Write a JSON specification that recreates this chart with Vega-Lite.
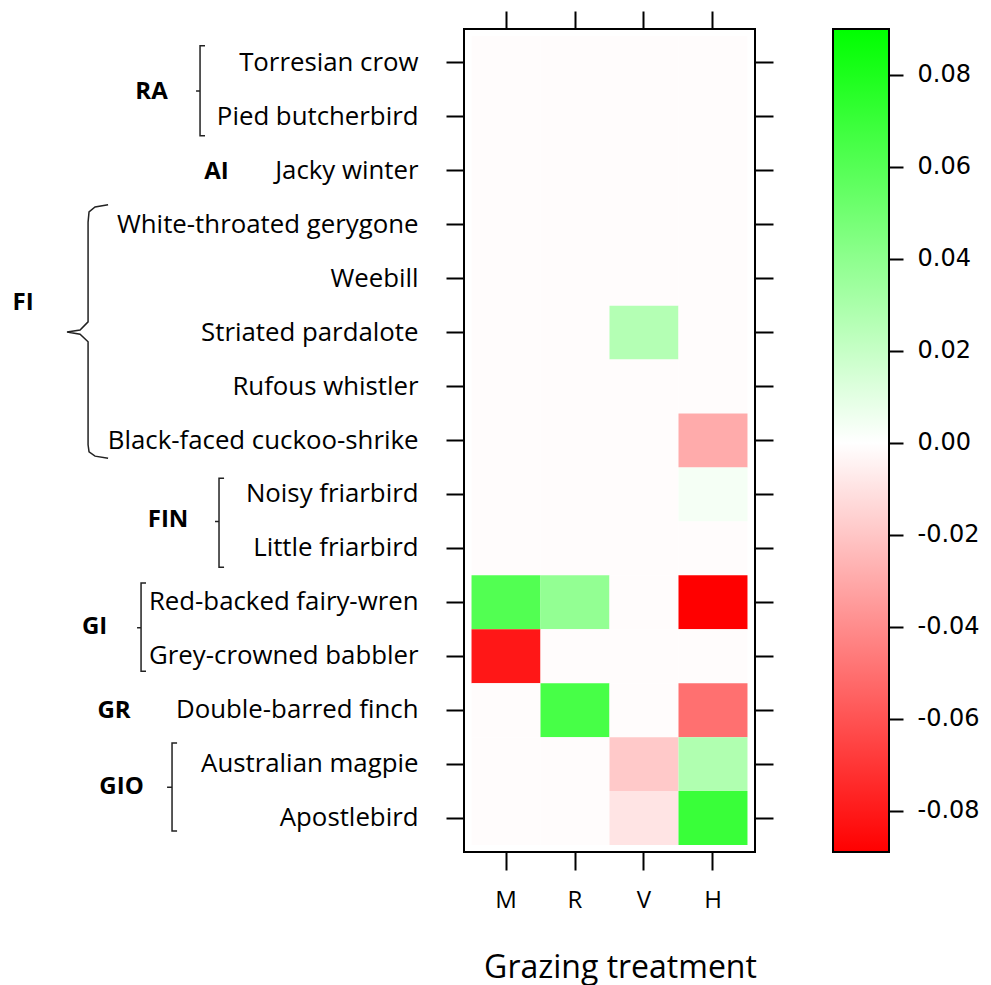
{
  "$schema": "https://vega.github.io/schema/vega-lite/v6.json",
  "width": 291,
  "height": 823,
  "autosize": {"type": "none"},
  "padding": {"left": 464, "top": 29, "right": 236, "bottom": 133},
  "background": "white",
  "config": {
    "view": {"stroke": "black", "strokeWidth": 2},
    "axis": {"tickColor": "black", "tickWidth": 2, "domain": false, "grid": false, "labelColor": "black", "titleColor": "black"}
  },
  "datasets": {
    "cells": [
      {"species": "Torresian crow", "treatment": "M", "value": -0.001},
      {"species": "Torresian crow", "treatment": "R", "value": -0.001},
      {"species": "Torresian crow", "treatment": "V", "value": -0.001},
      {"species": "Torresian crow", "treatment": "H", "value": -0.001},
      {"species": "Pied butcherbird", "treatment": "M", "value": -0.001},
      {"species": "Pied butcherbird", "treatment": "R", "value": -0.001},
      {"species": "Pied butcherbird", "treatment": "V", "value": -0.001},
      {"species": "Pied butcherbird", "treatment": "H", "value": -0.001},
      {"species": "Jacky winter", "treatment": "M", "value": -0.001},
      {"species": "Jacky winter", "treatment": "R", "value": -0.001},
      {"species": "Jacky winter", "treatment": "V", "value": -0.001},
      {"species": "Jacky winter", "treatment": "H", "value": -0.001},
      {"species": "White-throated gerygone", "treatment": "M", "value": -0.001},
      {"species": "White-throated gerygone", "treatment": "R", "value": -0.001},
      {"species": "White-throated gerygone", "treatment": "V", "value": -0.001},
      {"species": "White-throated gerygone", "treatment": "H", "value": -0.001},
      {"species": "Weebill", "treatment": "M", "value": -0.001},
      {"species": "Weebill", "treatment": "R", "value": -0.001},
      {"species": "Weebill", "treatment": "V", "value": -0.001},
      {"species": "Weebill", "treatment": "H", "value": -0.001},
      {"species": "Striated pardalote", "treatment": "M", "value": -0.001},
      {"species": "Striated pardalote", "treatment": "R", "value": -0.001},
      {"species": "Striated pardalote", "treatment": "V", "value": 0.0265},
      {"species": "Striated pardalote", "treatment": "H", "value": -0.001},
      {"species": "Rufous whistler", "treatment": "M", "value": -0.001},
      {"species": "Rufous whistler", "treatment": "R", "value": -0.001},
      {"species": "Rufous whistler", "treatment": "V", "value": -0.001},
      {"species": "Rufous whistler", "treatment": "H", "value": -0.001},
      {"species": "Black-faced cuckoo-shrike", "treatment": "M", "value": -0.001},
      {"species": "Black-faced cuckoo-shrike", "treatment": "R", "value": -0.001},
      {"species": "Black-faced cuckoo-shrike", "treatment": "V", "value": -0.001},
      {"species": "Black-faced cuckoo-shrike", "treatment": "H", "value": -0.0293},
      {"species": "Noisy friarbird", "treatment": "M", "value": -0.001},
      {"species": "Noisy friarbird", "treatment": "R", "value": -0.001},
      {"species": "Noisy friarbird", "treatment": "V", "value": -0.001},
      {"species": "Noisy friarbird", "treatment": "H", "value": 0.0035},
      {"species": "Little friarbird", "treatment": "M", "value": -0.001},
      {"species": "Little friarbird", "treatment": "R", "value": -0.001},
      {"species": "Little friarbird", "treatment": "V", "value": -0.001},
      {"species": "Little friarbird", "treatment": "H", "value": -0.001},
      {"species": "Red-backed fairy-wren", "treatment": "M", "value": 0.061},
      {"species": "Red-backed fairy-wren", "treatment": "R", "value": 0.038},
      {"species": "Red-backed fairy-wren", "treatment": "V", "value": -0.001},
      {"species": "Red-backed fairy-wren", "treatment": "H", "value": -0.089},
      {"species": "Grey-crowned babbler", "treatment": "M", "value": -0.081},
      {"species": "Grey-crowned babbler", "treatment": "R", "value": -0.001},
      {"species": "Grey-crowned babbler", "treatment": "V", "value": -0.001},
      {"species": "Grey-crowned babbler", "treatment": "H", "value": -0.001},
      {"species": "Double-barred finch", "treatment": "M", "value": -0.001},
      {"species": "Double-barred finch", "treatment": "R", "value": 0.065},
      {"species": "Double-barred finch", "treatment": "V", "value": -0.001},
      {"species": "Double-barred finch", "treatment": "H", "value": -0.050},
      {"species": "Australian magpie", "treatment": "M", "value": -0.001},
      {"species": "Australian magpie", "treatment": "R", "value": -0.001},
      {"species": "Australian magpie", "treatment": "V", "value": -0.019},
      {"species": "Australian magpie", "treatment": "H", "value": 0.028},
      {"species": "Apostlebird", "treatment": "M", "value": -0.001},
      {"species": "Apostlebird", "treatment": "R", "value": -0.001},
      {"species": "Apostlebird", "treatment": "V", "value": -0.0094},
      {"species": "Apostlebird", "treatment": "H", "value": 0.070}
    ],
    "groups": [
      {"label": "RA", "u": -4.638, "r": 1.03},
      {"label": "AI", "u": -3.696, "r": 2.52},
      {"label": "FI", "u": -6.5, "r": 4.95},
      {"label": "FIN", "u": -4.399, "r": 8.97},
      {"label": "GI", "u": -5.464, "r": 10.96},
      {"label": "GR", "u": -5.181, "r": 12.52},
      {"label": "GIO", "u": -5.073, "r": 13.93}
    ],
    "brackets": [
      {"group": "RA", "order": 1, "u": -3.863, "r": 0.18},
      {"group": "RA", "order": 2, "u": -3.935, "r": 0.18},
      {"group": "RA", "order": 3, "u": -3.935, "r": 1.02},
      {"group": "RA", "order": 4, "u": -3.993, "r": 1.02},
      {"group": "RA", "order": 5, "u": -3.935, "r": 1.02},
      {"group": "RA", "order": 6, "u": -3.935, "r": 1.85},
      {"group": "RA", "order": 7, "u": -3.863, "r": 1.85},
      {"group": "FI", "order": 1, "u": -5.268, "r": 3.13},
      {"group": "FI", "order": 2, "u": -5.457, "r": 3.17},
      {"group": "FI", "order": 3, "u": -5.544, "r": 3.26},
      {"group": "FI", "order": 4, "u": -5.558, "r": 3.45},
      {"group": "FI", "order": 5, "u": -5.558, "r": 5.3},
      {"group": "FI", "order": 6, "u": -5.674, "r": 5.45},
      {"group": "FI", "order": 7, "u": -5.863, "r": 5.49},
      {"group": "FI", "order": 8, "u": -5.674, "r": 5.53},
      {"group": "FI", "order": 9, "u": -5.558, "r": 5.67},
      {"group": "FI", "order": 10, "u": -5.558, "r": 7.58},
      {"group": "FI", "order": 11, "u": -5.544, "r": 7.71},
      {"group": "FI", "order": 12, "u": -5.457, "r": 7.79},
      {"group": "FI", "order": 13, "u": -5.268, "r": 7.83},
      {"group": "FIN", "order": 1, "u": -3.587, "r": 8.2},
      {"group": "FIN", "order": 2, "u": -3.66, "r": 8.2},
      {"group": "FIN", "order": 3, "u": -3.66, "r": 9.0},
      {"group": "FIN", "order": 4, "u": -3.718, "r": 9.0},
      {"group": "FIN", "order": 5, "u": -3.66, "r": 9.0},
      {"group": "FIN", "order": 6, "u": -3.66, "r": 9.85},
      {"group": "FIN", "order": 7, "u": -3.587, "r": 9.85},
      {"group": "GI", "order": 1, "u": -4.718, "r": 10.14},
      {"group": "GI", "order": 2, "u": -4.79, "r": 10.14},
      {"group": "GI", "order": 3, "u": -4.79, "r": 10.97},
      {"group": "GI", "order": 4, "u": -4.848, "r": 10.97},
      {"group": "GI", "order": 5, "u": -4.79, "r": 10.97},
      {"group": "GI", "order": 6, "u": -4.79, "r": 11.78},
      {"group": "GI", "order": 7, "u": -4.718, "r": 11.78},
      {"group": "GIO", "order": 1, "u": -4.268, "r": 13.11},
      {"group": "GIO", "order": 2, "u": -4.341, "r": 13.11},
      {"group": "GIO", "order": 3, "u": -4.341, "r": 13.93},
      {"group": "GIO", "order": 4, "u": -4.413, "r": 13.93},
      {"group": "GIO", "order": 5, "u": -4.341, "r": 13.93},
      {"group": "GIO", "order": 6, "u": -4.341, "r": 14.74},
      {"group": "GIO", "order": 7, "u": -4.268, "r": 14.74}
    ]
  },
  "layer": [
    {
      "data": {"name": "cells"},
      "mark": {"type": "rect"},
      "encoding": {
        "x": {
          "field": "treatment", "type": "nominal", "sort": ["M", "R", "V", "H"],
          "scale": {"paddingInner": 0, "paddingOuter": 0.109},
          "axis": {"orient": "bottom", "title": "Grazing treatment", "labelAngle": 0, "tickSize": 18,
            "labelFont": "Open Sans", "labelFontSize": 24, "labelPadding": 18,
            "titleFont": "Open Sans", "titleFontSize": 32, "titleFontWeight": "normal", "titlePadding": 40, "titleX": 156}
        },
        "y": {
          "field": "species", "type": "nominal",
          "sort": ["Torresian crow", "Pied butcherbird", "Jacky winter", "White-throated gerygone", "Weebill", "Striated pardalote", "Rufous whistler", "Black-faced cuckoo-shrike", "Noisy friarbird", "Little friarbird", "Red-backed fairy-wren", "Grey-crowned babbler", "Double-barred finch", "Australian magpie", "Apostlebird"],
          "scale": {"paddingInner": 0, "paddingOuter": 0.13},
          "axis": {"orient": "left", "title": null, "tickSize": 18, "labelPadding": 28, "labelFont": "Open Sans", "labelFontSize": 25.8, "labelLimit": 450}
        },
        "color": {
          "field": "value", "type": "quantitative",
          "scale": {"domain": [-0.089, 0, 0.09], "range": ["#ff0000", "#ffffff", "#00ff00"], "interpolate": "rgb"},
          "legend": {"orient": "none", "legendX": 369, "legendY": 0, "direction": "vertical", "gradientLength": 823, "gradientThickness": 56, "title": null, "gradientStrokeColor": "black", "gradientStrokeWidth": 2, "labelOpacity": 0}
        }
      }
    },
    {
      "data": {"name": "cells"},
      "mark": {"type": "rect", "opacity": 0},
      "encoding": {
        "x": {
          "field": "treatment", "type": "nominal", "sort": ["M", "R", "V", "H"],
          "scale": {"paddingInner": 0, "paddingOuter": 0.109},
          "axis": {"orient": "top", "title": null, "labels": false, "tickSize": 18}
        },
        "y": {
          "field": "species", "type": "nominal",
          "sort": ["Torresian crow", "Pied butcherbird", "Jacky winter", "White-throated gerygone", "Weebill", "Striated pardalote", "Rufous whistler", "Black-faced cuckoo-shrike", "Noisy friarbird", "Little friarbird", "Red-backed fairy-wren", "Grey-crowned babbler", "Double-barred finch", "Australian magpie", "Apostlebird"],
          "scale": {"paddingInner": 0, "paddingOuter": 0.13},
          "axis": {"orient": "right", "title": null, "labels": false, "tickSize": 18}
        }
      }
    },
    {
      "data": {"name": "cells"},
      "mark": {"type": "tick", "opacity": 0},
      "encoding": {
        "y": {
          "field": "value", "type": "quantitative",
          "scale": {"domain": [-0.089, 0.09], "nice": false, "zero": false},
          "axis": {"orient": "right", "offset": 134, "title": null, "values": [-0.08, -0.06, -0.04, -0.02, 0, 0.02, 0.04, 0.06, 0.08],
            "format": ".2f", "labelExpr": "replace(datum.label, '\u2212', '-')", "tickSize": 14, "labelPadding": 14,
            "labelFont": "DejaVu Sans", "labelFontSize": 24, "labelFlush": false, "labelOverlap": false}
        }
      }
    },
    {
      "data": {"name": "brackets"},
      "mark": {"type": "line", "stroke": "#222222", "strokeWidth": 1.5},
      "encoding": {
        "x": {"field": "u", "type": "quantitative", "scale": {"domain": [-0.109, 4.109], "nice": false, "zero": false}, "axis": null},
        "y": {"field": "r", "type": "quantitative", "scale": {"domain": [-0.13, 15.13], "nice": false, "zero": false, "reverse": true}, "axis": null},
        "detail": {"field": "group"},
        "order": {"field": "order", "type": "quantitative"}
      }
    },
    {
      "data": {"name": "groups"},
      "mark": {"type": "text", "font": "Open Sans", "fontWeight": "bold", "fontSize": 24, "align": "center", "baseline": "middle", "color": "black"},
      "encoding": {
        "x": {"field": "u", "type": "quantitative", "scale": {"domain": [-0.109, 4.109], "nice": false, "zero": false}, "axis": null},
        "y": {"field": "r", "type": "quantitative", "scale": {"domain": [-0.13, 15.13], "nice": false, "zero": false, "reverse": true}, "axis": null},
        "text": {"field": "label"}
      }
    }
  ],
  "resolve": {
    "scale": {"x": "independent", "y": "independent", "color": "independent"},
    "axis": {"x": "independent", "y": "independent"}
  }
}
